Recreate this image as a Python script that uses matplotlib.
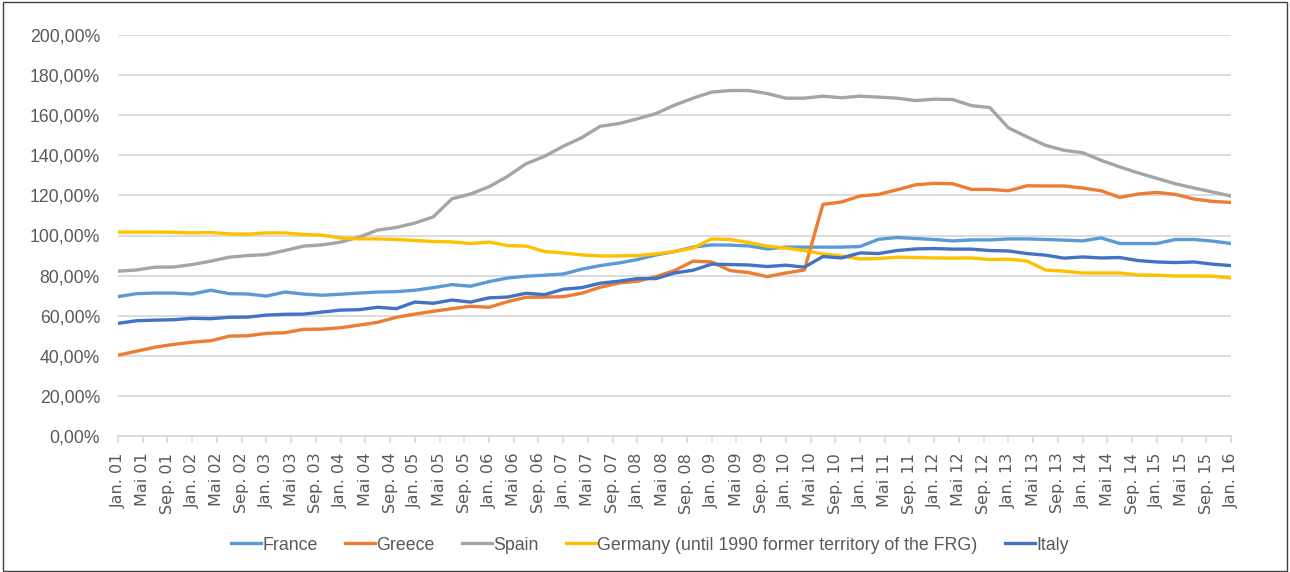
import matplotlib
matplotlib.use("Agg")
import matplotlib.pyplot as plt
from matplotlib.patches import Rectangle
from matplotlib.ticker import FuncFormatter

# quarterly values, Jan. 01 .. Jan. 16 (percent)
france = [69.5, 71.0, 71.3, 71.3, 70.8, 72.7, 71.0, 70.8, 69.8, 71.8, 70.8, 70.2, 70.7, 71.3, 71.8, 72.0,
          72.7, 74.0, 75.5, 74.7, 77.0, 78.8, 79.7, 80.2, 80.8, 83.2, 85.0, 86.3, 88.0, 90.3, 92.0, 94.2,
          95.3, 95.2, 94.8, 93.3, 94.2, 94.2, 94.2, 94.2, 94.5, 98.1, 99.0, 98.5, 98.0, 97.3, 97.8, 97.8,
          98.3, 98.3, 98.0, 97.7, 97.3, 98.8, 96.0, 96.0, 96.0, 98.0, 98.0, 97.2, 96.0]
greece = [40.3, 42.3, 44.3, 45.7, 46.8, 47.5, 49.8, 50.0, 51.2, 51.5, 53.2, 53.3, 54.0, 55.3, 56.7, 59.2,
          60.8, 62.2, 63.5, 64.7, 64.2, 67.0, 69.2, 69.3, 69.5, 71.2, 74.2, 76.3, 77.2, 79.5, 82.5, 87.2,
          86.8, 82.5, 81.5, 79.5, 81.3, 82.8, 115.5, 116.7, 119.7, 120.5, 122.8, 125.3, 126.0, 125.8, 123.0, 123.0,
          122.3, 124.8, 124.7, 124.7, 123.7, 122.3, 119.0, 120.7, 121.5, 120.5, 118.2, 117.0, 116.5]
spain = [82.2, 82.8, 84.2, 84.3, 85.5, 87.2, 89.2, 90.0, 90.5, 92.5, 94.7, 95.3, 96.7, 99.2, 102.7, 104.0,
         106.2, 109.3, 118.3, 120.7, 124.3, 129.5, 135.8, 139.5, 144.5, 148.8, 154.5, 155.8, 158.2, 160.8, 165.0, 168.5,
         171.5, 172.3, 172.3, 170.8, 168.5, 168.5, 169.5, 168.7, 169.5, 169.0, 168.5, 167.3, 168.0, 167.8, 164.8, 163.8,
         153.7, 149.2, 145.0, 142.5, 141.3, 137.5, 134.2, 131.2, 128.5, 125.8, 123.7, 121.7, 119.7]
germany = [101.7, 101.7, 101.7, 101.6, 101.3, 101.5, 100.8, 100.7, 101.3, 101.3, 100.5, 100.2, 98.8, 98.3, 98.3, 98.0,
           97.5, 97.0, 96.8, 96.0, 96.7, 95.0, 94.7, 92.0, 91.3, 90.3, 89.8, 89.8, 90.0, 90.8, 92.0, 93.7,
           98.3, 98.0, 96.5, 94.7, 93.7, 92.5, 90.8, 89.8, 88.3, 88.5, 89.2, 89.0, 88.8, 88.7, 88.8, 88.0,
           88.2, 87.3, 82.8, 82.2, 81.3, 81.3, 81.3, 80.3, 80.2, 79.8, 79.8, 79.7, 78.8]
italy = [56.2, 57.5, 57.8, 58.0, 58.7, 58.5, 59.2, 59.3, 60.3, 60.7, 60.8, 61.8, 62.8, 63.0, 64.2, 63.5,
         66.8, 66.2, 67.8, 66.8, 68.9, 69.3, 71.2, 70.5, 73.2, 74.0, 76.2, 77.2, 78.5, 78.5, 81.3, 82.7,
         85.7, 85.5, 85.3, 84.5, 85.2, 84.2, 89.5, 88.8, 91.3, 91.0, 92.5, 93.3, 93.5, 93.2, 93.2, 92.5,
         92.3, 91.0, 90.2, 88.7, 89.3, 88.8, 89.0, 87.5, 86.8, 86.5, 86.8, 85.7, 85.0]

series_names = ["France", "Greece", "Spain", "Germany (until 1990 former territory of the FRG)", "Italy"]
colors = ["#5B9BD5", "#ED7D31", "#A5A5A5", "#FFC000", "#4472C4"]

month_prefix = ["Jan.", "Mai", "Sep."]
tick_labels = []
for year in range(1, 16):
    for p in month_prefix:
        tick_labels.append(f"{p} {year:02d}")
tick_labels.append("Jan. 16")

fig = plt.figure(figsize=(12.9, 5.72), dpi=100)
ax = fig.add_axes([118 / 1290, 1 - 436 / 572, (1231 - 118) / 1290, (436 - 35) / 572])

months = [3 * i for i in range(len(france))]
for vals, name, c in zip([france, greece, spain, germany, italy], series_names, colors):
    ax.plot(months, vals, color=c, lw=2.4, label=name, solid_joinstyle="round")

ax.set_xlim(0, 180)
ax.set_ylim(0, 200)
ax.set_yticks(range(0, 201, 20))
ax.yaxis.set_major_formatter(FuncFormatter(lambda v, p: f"{v:.2f}%".replace(".", ",")))
ax.set_xticks(range(0, 181, 4))
ax.set_xticklabels(tick_labels, rotation=90, fontsize=11.5, color="#595959", family="DejaVu Sans")
ax.tick_params(axis="y", length=0, labelsize=12.7, labelcolor="#595959", pad=13)
ax.tick_params(axis="x", length=5, color="#D9D9D9", width=1.2, pad=7)
for lab in ax.get_yticklabels():
    lab.set_family("Liberation Sans")
ax.grid(axis="y", color="#D9D9D9", lw=1.3)
ax.set_axisbelow(True)
for s in ["top", "right", "left"]:
    ax.spines[s].set_visible(False)
ax.spines["bottom"].set_color("#D9D9D9")
ax.spines["bottom"].set_linewidth(1.3)

fig.legend(loc="center", bbox_to_anchor=(650 / 1290, 1 - 545 / 572), ncol=5, frameon=False,
           handlelength=1.7, handletextpad=0.05, columnspacing=1.55,
           prop={"family": "Liberation Sans", "size": 12.8}, labelcolor="#595959")

fig.add_artist(Rectangle((0.002, 0.002), 0.996, 0.995, transform=fig.transFigure,
                         fill=False, edgecolor="#404040", lw=1))

fig.savefig("out.png", dpi=100)
